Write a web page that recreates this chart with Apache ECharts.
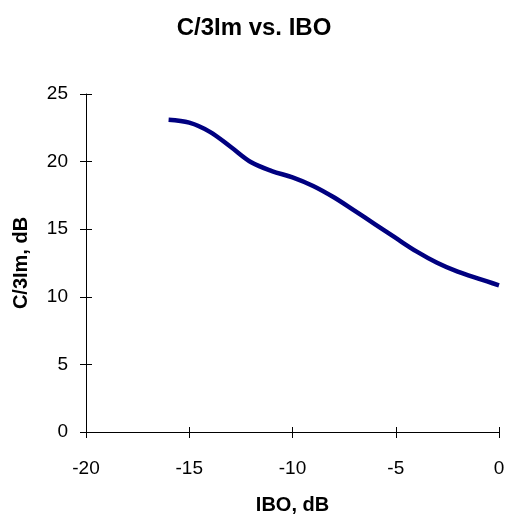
<!DOCTYPE html>
<html>
<head>
<meta charset="utf-8">
<script src="https://cdn.jsdelivr.net/npm/echarts@6/dist/echarts.min.js"></script>
<style>
html,body{margin:0;padding:0;background:#fff;}
#main{width:508px;height:517px;}
</style>
</head>
<body>
<div id="main"></div>
<script>
var ibo = [-16, -15, -14, -13, -12, -11, -10, -9, -8, -7, -6, -5, -4, -3, -2, -1, 0];
var c3im = [23.1, 22.88, 22.2, 21.1, 19.95, 19.3, 18.84, 18.2, 17.36, 16.37, 15.36, 14.35, 13.36, 12.52, 11.86, 11.34, 10.85];
var xTicks = [-20, -15, -10, -5, 0];
var yTicks = [0, 5, 10, 15, 20, 25];

var FONT = '"Liberation Sans", Arial, Helvetica, sans-serif';
var chart = echarts.init(document.getElementById('main'), null, {renderer: 'canvas'});
var pts = ibo.map(function (x, i) { return [x, c3im[i]]; });

var axisLine = {show: true, onZero: false, lineStyle: {color: '#000', width: 1}};
chart.setOption({
  backgroundColor: '#fff',
  animation: false,
  title: {
    text: 'C/3Im vs. IBO',
    left: 'center',
    top: 16,
    padding: 0,
    textStyle: {fontFamily: FONT, fontSize: 24, fontWeight: 'bold', color: '#000'}
  },
  grid: {left: 86, right: 9, top: 94, bottom: 85, containLabel: false, outerBoundsMode: 'none'},
  xAxis: [{
    type: 'value',
    min: xTicks[0], max: xTicks[xTicks.length - 1], interval: 5,
    axisLine: axisLine,
    axisTick: {show: true, length: 6, lineStyle: {color: '#000'}},
    axisLabel: {margin: 27, fontSize: 19, color: '#000', fontFamily: FONT},
    splitLine: {show: false},
    name: 'IBO, dB',
    nameLocation: 'middle',
    nameGap: 63,
    nameTextStyle: {fontFamily: FONT, fontSize: 20, fontWeight: 'bold', color: '#000'}
  }, {
    type: 'value', position: 'bottom',
    min: xTicks[0], max: xTicks[xTicks.length - 1], interval: 5,
    axisLine: {show: false, onZero: false},
    axisTick: {show: true, inside: true, length: 5, lineStyle: {color: '#000'}},
    axisLabel: {show: false},
    splitLine: {show: false}
  }],
  yAxis: [{
    type: 'value',
    min: yTicks[0], max: yTicks[yTicks.length - 1], interval: 5,
    axisLine: axisLine,
    axisTick: {show: true, length: 6, lineStyle: {color: '#000'}},
    axisLabel: {margin: 18, fontSize: 19, color: '#000', fontFamily: FONT, padding: [4, 0, 0, 0]},
    splitLine: {show: false},
    name: 'C/3Im, dB',
    nameLocation: 'middle',
    nameGap: 55,
    nameTextStyle: {fontFamily: FONT, fontSize: 20, fontWeight: 'bold', color: '#000'}
  }, {
    type: 'value', position: 'left',
    min: yTicks[0], max: yTicks[yTicks.length - 1], interval: 5,
    axisLine: {show: false, onZero: false},
    axisTick: {show: true, inside: true, length: 6, lineStyle: {color: '#000'}},
    axisLabel: {show: false},
    splitLine: {show: false}
  }],
  series: [{
    type: 'line',
    data: pts,
    smooth: 0.35,
    showSymbol: false,
    lineStyle: {color: '#000080', width: 4.5},
    xAxisIndex: 0, yAxisIndex: 0
  }]
});
</script>
</body>
</html>
